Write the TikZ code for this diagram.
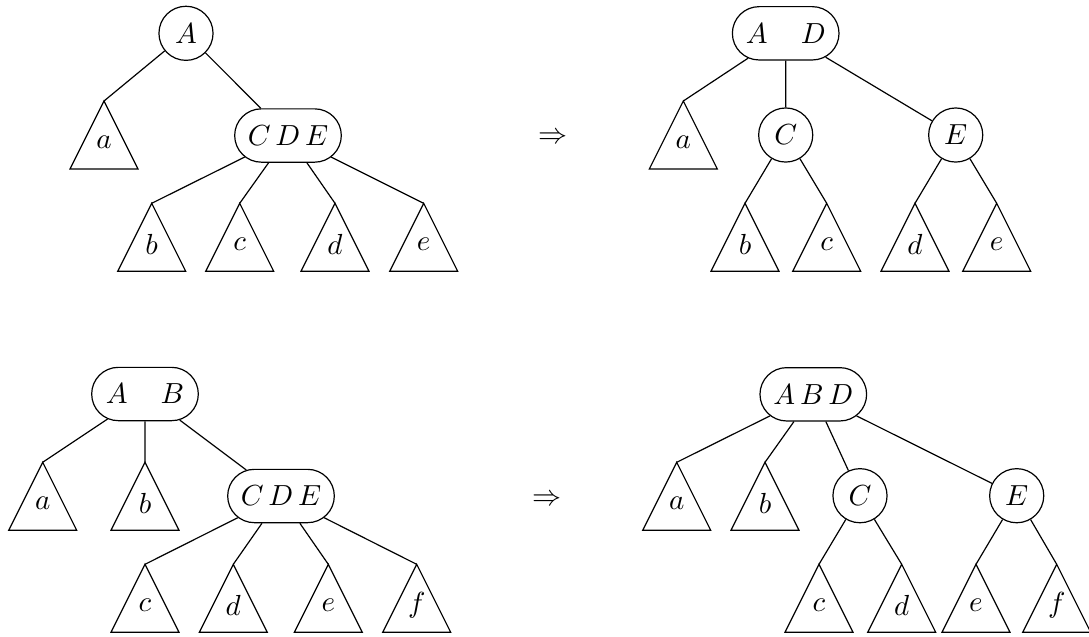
\documentclass[tikz,border=0pt]{standalone}
\usetikzlibrary{shapes.misc}
\tikzset{splittree/.style={x=0.377pt,y=-0.377pt,line width=0.45pt,font=\fontsize{11}{13}\selectfont},
  keys/.style={draw,rounded rectangle,minimum width=40.2pt,minimum height=20.1pt,inner sep=0pt},
  key/.style={draw,circle,minimum size=20.4pt,inner sep=0pt}}

\begin{document}
\begin{tikzpicture}[splittree]
    \useasboundingbox (0,0) rectangle (1089,636);
    % subtrees: apex name / x / y / label
    \foreach \n/\x/\y/\lab in {ta/104/101/a,tb/151.7/203.3/b,tc/239.7/203.3/c,td/335/203.3/d,te/423.7/203.3/e,
        ua/683.3/101/a,ub/745/203.3/b,uc/826.7/203.3/c,ud/915/203.3/d,ue/996.7/203.3/e,
        va/42.7/462.3/a,vb/145/462.3/b,vc/145/564.3/c,vd/233.3/564.3/d,ve/328.3/564.3/e,vf/416.7/564.3/f,
        wa/676.7/462.3/a,wb/765/462.3/b,wc/819/564.3/c,wd/901.7/564.3/d,we/976/564.3/e,wf/1056.7/564.3/f}{
      \coordinate (\n) at (\x,\y);
      \draw (\n) -- ++(-34,68) -- ++(68,0) -- cycle;
      \node (\n txt) at (\x,{\y+41}) {$\lab$};
    }
    % top left
    \node[key]  (tA)   at (186,33.3)  {$A$};
    \node[keys] (tCDE) at (288,135.5) {$C\,D\,E$};
    \draw (tA) -- (ta);
    \draw (tA) -- (tCDE);
    \foreach \c in {tb,tc,td,te} \draw (tCDE) -- (\c);
    \node (arr1) at (553,138) {$\Rightarrow$};
    % top right
    \node[keys] (uAD) at (785.7,33.3) {$A\,\phantom{B}\,D$};
    \node[key]  (uC)  at (785.7,135)  {$C$};
    \node[key]  (uE)  at (955.7,135)  {$E$};
    \draw (uAD) -- (ua);
    \draw (uAD) -- (uC);
    \draw (uAD) -- (uE);
    \draw (uC) -- (ub); \draw (uC) -- (uc);
    \draw (uE) -- (ud); \draw (uE) -- (ue);
    % bottom left
    \node[keys] (vAB)  at (145,394) {$A\,\phantom{B}\,B$};
    \node[keys] (vCDE) at (281,496) {$C\,D\,E$};
    \draw (vAB) -- (va);
    \draw (vAB) -- (vb);
    \draw (vAB) -- (vCDE);
    \foreach \c in {vc,vd,ve,vf} \draw (vCDE) -- (\c);
    \node (arr2) at (547.5,500) {$\Rightarrow$};
    % bottom right
    \node[keys] (wABD) at (813.3,394.3) {$A\,B\,D$};
    \node[key]  (wC)   at (860,495.7)   {$C$};
    \node[key]  (wE)   at (1016.7,495.7) {$E$};
    \foreach \c in {wa,wb,wC,wE} \draw (wABD) -- (\c);
    \draw (wC) -- (wc); \draw (wC) -- (wd);
    \draw (wE) -- (we); \draw (wE) -- (wf);
\end{tikzpicture}
\end{document}
